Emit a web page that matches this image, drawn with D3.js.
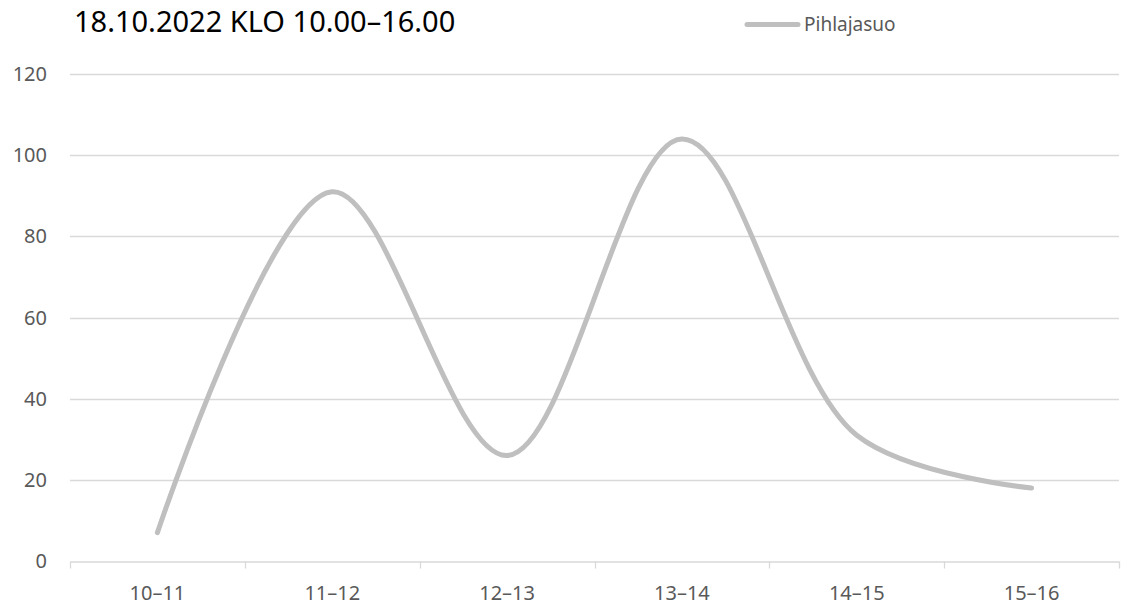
<!DOCTYPE html>
<html>
<head>
<meta charset="utf-8">
<script src="https://cdn.jsdelivr.net/npm/d3@7"></script>
<style>
  body { margin: 0; background: #fff; }
  svg { display: block; }
</style>
</head>
<body>
<div id="chart"></div>
<script>
// data
const title = "18.10.2022 KLO 10.00–16.00";
const seriesName = "Pihlajasuo";
const categories = ["10–11", "11–12", "12–13", "13–14", "14–15", "15–16"];
const values = [7, 91, 26, 104, 31, 18];
const yTicks = [0, 20, 40, 60, 80, 100, 120];

const width = 1121;
const height = 608;
const margin = {top: 74, right: 2, bottom: 46, left: 70};
const lineColor = "#bfbfbf";
const gridColor = "#d9d9d9";
const textColor = "#595959";

const svg = d3.select("#chart").append("svg")
    .attr("width", width)
    .attr("height", height);

const x = d3.scaleBand()
    .domain(categories)
    .range([margin.left, width - margin.right])
    .padding(0);

const y = d3.scaleLinear()
    .domain([0, 120])
    .range([height - margin.bottom - 1, margin.top]);

// gridlines
svg.append("g")
    .selectAll("line")
    .data(yTicks.filter(d => d > 0))
    .enter()
    .append("line")
    .attr("x1", margin.left)
    .attr("x2", width - margin.right)
    .attr("y1", d => Math.round(y(d)) + 0.5)
    .attr("y2", d => Math.round(y(d)) + 0.5)
    .style("stroke", gridColor)
    .style("stroke-width", 1.3);

// y labels
svg.append("g")
    .selectAll("text")
    .data(yTicks)
    .enter()
    .append("text")
    .attr("x", 47)
    .attr("y", d => y(d))
    .attr("dy", "0.35em")
    .attr("text-anchor", "end")
    .style("font-family", "'Noto Sans', sans-serif")
    .style("font-size", "20px")
    .style("fill", textColor)
    .text(d => d);

// x axis: line plus ticks on band boundaries
const xAxis = d3.axisBottom(x)
    .tickSize(0)
    .tickPadding(24);

const gx = svg.append("g")
    .attr("transform", "translate(0," + (Math.round(y(0)) + 0.5) + ")")
    .call(xAxis);

gx.select(".domain").style("stroke", gridColor).style("stroke-width", 1.3);
gx.selectAll("text")
    .style("font-family", "'Noto Sans', sans-serif")
    .style("font-size", "20px")
    .style("fill", textColor);

const bounds = categories.map(c => x(c)).concat([x.range()[1]]);
gx.selectAll("line.bound")
    .data(bounds)
    .enter()
    .append("line")
    .attr("class", "bound")
    .attr("x1", d => Math.round(d) + 0.5)
    .attr("x2", d => Math.round(d) + 0.5)
    .attr("y1", 0)
    .attr("y2", 7)
    .style("stroke", gridColor)
    .style("stroke-width", 1.3);

// smoothed series line
const line = d3.line()
    .x((d, i) => x(categories[i]) + x.bandwidth() / 2)
    .y(d => y(d))
    .curve(d3.curveCatmullRom.alpha(0.5));

svg.append("path")
    .datum(values)
    .attr("d", line)
    .style("fill", "none")
    .style("stroke", lineColor)
    .style("stroke-width", 5)
    .style("stroke-linecap", "round")
    .style("stroke-linejoin", "round");

// title
svg.append("text")
    .attr("x", 74)
    .attr("y", 32)
    .style("font-family", "'Noto Sans', sans-serif")
    .style("font-size", "29px")
    .style("fill", "#000")
    .text(title);

// legend
const legend = svg.append("g");
legend.append("line")
    .attr("x1", 747)
    .attr("x2", 798)
    .attr("y1", 24.5)
    .attr("y2", 24.5)
    .style("stroke", lineColor)
    .style("stroke-width", 5)
    .style("stroke-linecap", "round");
legend.append("text")
    .attr("x", 804)
    .attr("y", 24.5)
    .attr("dy", "0.35em")
    .style("font-family", "'Noto Sans', sans-serif")
    .style("font-size", "19px")
    .style("fill", textColor)
    .text(seriesName);
</script>
</body>
</html>
